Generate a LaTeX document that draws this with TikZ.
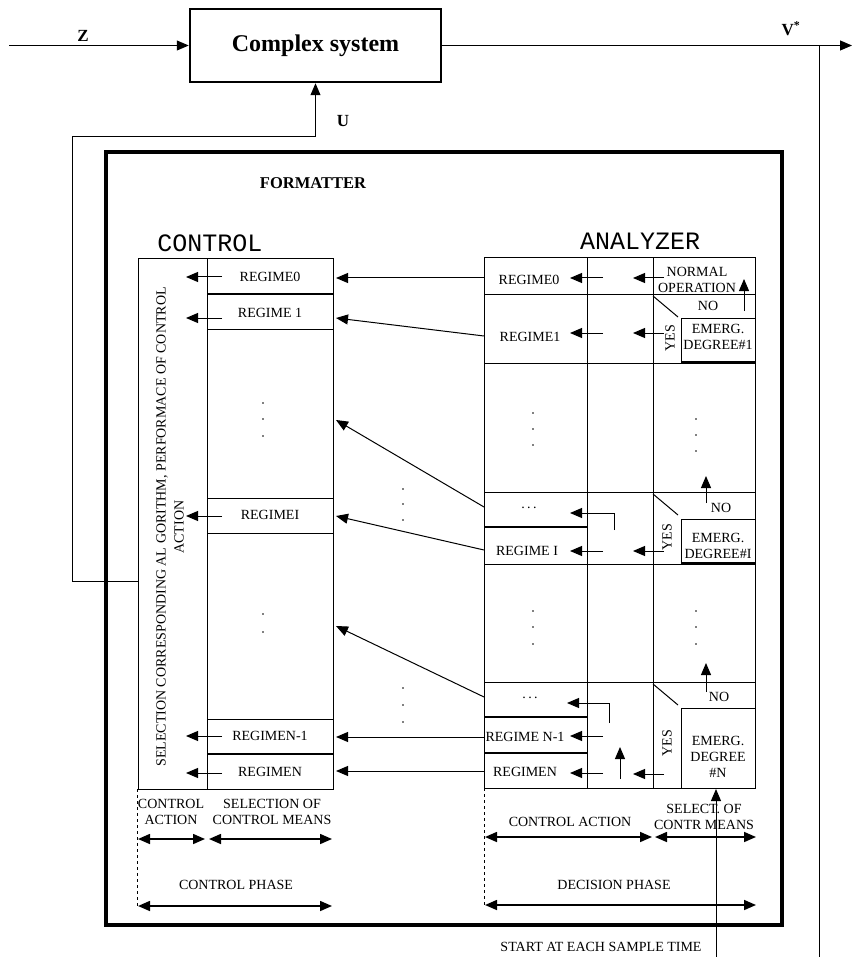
\documentclass[tikz,border=0pt]{standalone}
\usepackage{fontspec}
\setmainfont{Liberation Serif}
\setmonofont{Liberation Mono}
\usetikzlibrary{arrows.meta,positioning}

\begin{document}
\begin{tikzpicture}[x=1pt,y=-1pt]
  % Define arrow, label and line styles
  \tikzstyle{arr} = [-{Triangle[length=12pt,width=10pt]}, line width=1pt]
  \tikzstyle{twoarr} = [{Triangle[length=12pt,width=10pt]}-{Triangle[length=12pt,width=10pt]}, line width=1.6pt]
  \tikzstyle{lab} = [font=\fontsize{14}{16}\selectfont, inner sep=1pt, align=center]
  \tikzstyle{siglab} = [font=\fontsize{17}{20}\selectfont\bfseries, inner sep=1pt]
  \tikzstyle{blocktitle} = [font=\ttfamily\fontsize{25}{28}\selectfont, inner sep=1pt]
  \tikzstyle{tick} = [line width=1pt]
  \tikzstyle{sep} = [line width=2.4pt]
  \tikzstyle{dot} = [fill, circle, inner sep=0pt, minimum size=1.8pt]

  \useasboundingbox (0,0) rectangle (853,957);

  % Complex system with its inputs and output
  \node[draw, line width=2.5pt, minimum width=251pt, minimum height=73pt,
        font=\fontsize{24}{26}\selectfont\bfseries] (system) at (315.5,45.5) {Complex system};
  \coordinate (zin) at (9,45.5);
  \coordinate (vout) at (852,45.5);
  \coordinate (vtap) at (819,45.5);
  \coordinate (vend) at (819,957);
  \draw[arr] (zin) -- (system.west);
  \draw[arr] (system.east) -- (vout);
  \draw[tick] (vtap) -- (vend);
  \node[siglab] (zlab) at (83,36) {Z};
  \node[siglab] (vlab) at (791,29) {V\textsuperscript{*}};
  \node[siglab] (ulab) at (343,121) {U};

  % Formatter
  \node[draw, line width=4pt, minimum width=676pt, minimum height=773pt] (formatter) at (444,538.5) {};
  \node[siglab, font=\fontsize{16.5}{18}\selectfont\bfseries] (fmtlab) at (313,183) {FORMATTER};

  % Control block
  \node[blocktitle] (ctrltitle) at (210,243) {CONTROL};
  \draw[tick] (138,259) rectangle (333,789);
  \draw[tick] (207,259) -- (207,789);
  \draw[sep] (207,294) -- (333,294);
  \draw[sep] (207,754) -- (333,754);
  \foreach \y in {329,498,533,719}
    \draw[tick] (207,\y) -- (333,\y);
  \foreach \nm/\y/\ya/\txt in {c0/277/277/REGIME0, c1/313/318/REGIME 1, ci/515/516/REGIMEI,
                               cm/736/736/REGIMEN-1, cn/772/773/REGIMEN} {
    \node[lab] (\nm) at (270,\y) {\txt};
    \coordinate (\nm-a) at (222,\ya);
    \coordinate (\nm-b) at (186,\ya);
    \draw[arr] (\nm-a) -- (\nm-b);
  }
  \foreach \y in {403,419,436,614,632}
    \node[dot] at (263,\y) {};
  \node[lab, rotate=90, font=\fontsize{14}{18}\selectfont] (ctrltext) at (170,527)
    {SELECTION CORRESPONDING AL GORITHM, PERFORMACE OF CONTROL\\ACTION};

  % Feedback U
  \coordinate (fb) at (138,581);
  \coordinate (ufoot) at (315.5,137);
  \draw[arr] (fb) -- (72,581) |- (ufoot) -- (system.south);

  % Analyzer block
  \node[blocktitle] (anatitle) at (640,241) {ANALYZER};
  \draw[tick] (484,258) rectangle (755,788);
  \draw[tick] (587,258) -- (587,788);
  \draw[tick] (653,258) -- (653,788);
  \foreach \y in {294,363,492,564,682}
    \draw[tick] (484,\y) -- (755,\y);
  \foreach \y in {527,717,753}
    \draw[sep] (484,\y) -- (587,\y);

  % emergency degree boxes
  \draw[tick] (681,363) |- (755,318);
  \draw[tick] (681,564) |- (755,519);
  \draw[tick] (681,788) |- (755,708);
  \draw[sep] (681,362) -- (755,362);
  \draw[sep] (681,563) -- (755,563);
  \foreach \y in {296,494,684}
    \draw[tick] (653,\y) -- ++(25,21);
  \node[lab] (normal) at (697,280) {NORMAL\\OPERATION};
  \node[lab] (emerg1) at (718,337) {EMERG.\\DEGREE\#1};
  \node[lab] (emergi) at (718,546) {EMERG.\\DEGREE\#I};
  \node[lab] (emergn) at (718,757) {EMERG.\\DEGREE\\\#N};
  \node[lab] (no1) at (708,306) {NO};
  \node[lab] (noi) at (721,508) {NO};
  \node[lab] (non) at (719,697) {NO};
  \node[lab, rotate=90] (yes1) at (670,338) {YES};
  \node[lab, rotate=90] (yesi) at (667,537) {YES};
  \node[lab, rotate=90] (yesn) at (667,743) {YES};
  \coordinate (no1-s) at (744,311);
  \coordinate (no1-e) at (744,279);
  \coordinate (noi-s) at (706,503);
  \coordinate (noi-e) at (706,476);
  \coordinate (non-s) at (706,692);
  \coordinate (non-e) at (706,663);
  \draw[arr] (no1-s) -- (no1-e);
  \draw[arr] (noi-s) -- (noi-e);
  \draw[arr] (non-s) -- (non-e);

  % regimes of the analyzer
  \node[lab] (a0) at (529,280) {REGIME0};
  \node[lab] (a1) at (530,337) {REGIME1};
  \node[lab] (ad1) at (529,508) {.\,.\,.};
  \node[lab] (ai) at (527,551) {REGIME I};
  \node[lab] (ad2) at (530,698) {.\,.\,.};
  \node[lab] (am) at (525,737) {REGIME N-1};
  \node[lab] (an) at (525,772) {REGIMEN};
  \foreach \y in {413,429,445,611,627,644}
    \node[dot] at (533,\y) {};
  \foreach \y in {419,435,451,611,627,644}
    \node[dot] at (696,\y) {};
  \foreach \y in {489,504,520,688,705,722}
    \node[dot] at (403,\y) {};

  % arrows inside the analyzer
  \foreach \y in {278,333,551,736,773} {
    \coordinate (m\y) at (603,\y);
    \coordinate (l\y) at (570,\y);
    \draw[arr] (m\y) -- (l\y);
  }
  \foreach \y in {278,333,551,774} {
    \coordinate (r\y) at (664,\y);
    \coordinate (q\y) at (633,\y);
    \draw[arr] (r\y) -- (q\y);
  }
  \coordinate (loopi) at (614,530);
  \coordinate (loopi-e) at (570,513);
  \coordinate (loopm) at (609,723);
  \coordinate (loopm-e) at (567,703);
  \draw[arr] (loopi) |- (loopi-e);
  \draw[arr] (loopm) |- (loopm-e);
  \coordinate (upn) at (620,779);
  \coordinate (upn-e) at (620,747);
  \draw[arr] (upn) -- (upn-e);

  % from analyzer to control
  \foreach \i/\ya/\yc in {0/278/278, 1/336/318, 2/507/420, 3/550/516,
                          4/697/626, 5/737/737, 6/771/771} {
    \coordinate (src\i) at (484,\ya);
    \coordinate (dst\i) at (336,\yc);
    \draw[arr] (src\i) -- (dst\i);
  }

  % Phases
  \draw[dashed, line width=0.8pt] (137,789) -- (137,907);
  \draw[dashed, line width=0.8pt] (484,788) -- (484,907);
  \node[lab] (cact) at (171,812) {CONTROL\\ACTION};
  \node[lab] (cmeans) at (272,812) {SELECTION OF\\CONTROL MEANS};
  \coordinate (p1) at (138,839);
  \coordinate (p2) at (205,839);
  \coordinate (p3) at (209,839);
  \coordinate (p4) at (332,839);
  \draw[twoarr] (p1) -- (p2);
  \draw[twoarr] (p3) -- (p4);
  \node[lab] (cphase) at (236,885) {CONTROL PHASE};
  \coordinate (p5) at (138,906);
  \coordinate (p6) at (332,906);
  \draw[twoarr] (p5) -- (p6);

  \node[lab] (dact) at (570,822) {CONTROL ACTION};
  \node[lab] (dmeans) at (704,817) {SELECT. OF\\CONTR MEANS};
  \coordinate (q1) at (485,837);
  \coordinate (q2) at (652,837);
  \coordinate (q3) at (655,837);
  \coordinate (q4) at (756,837);
  \draw[twoarr] (q1) -- (q2);
  \draw[twoarr] (q3) -- (q4);
  \node[lab] (dphase) at (614,885) {DECISION PHASE};
  \coordinate (q5) at (485,905);
  \coordinate (q6) at (756,905);
  \draw[twoarr] (q5) -- (q6);

  % Sample time start
  \node[lab] (start) at (601,947) {START AT EACH SAMPLE TIME};
  \coordinate (st) at (716,957);
  \coordinate (st-e) at (716,789);
  \draw[arr] (st) -- (st-e);
\end{tikzpicture}
\end{document}
